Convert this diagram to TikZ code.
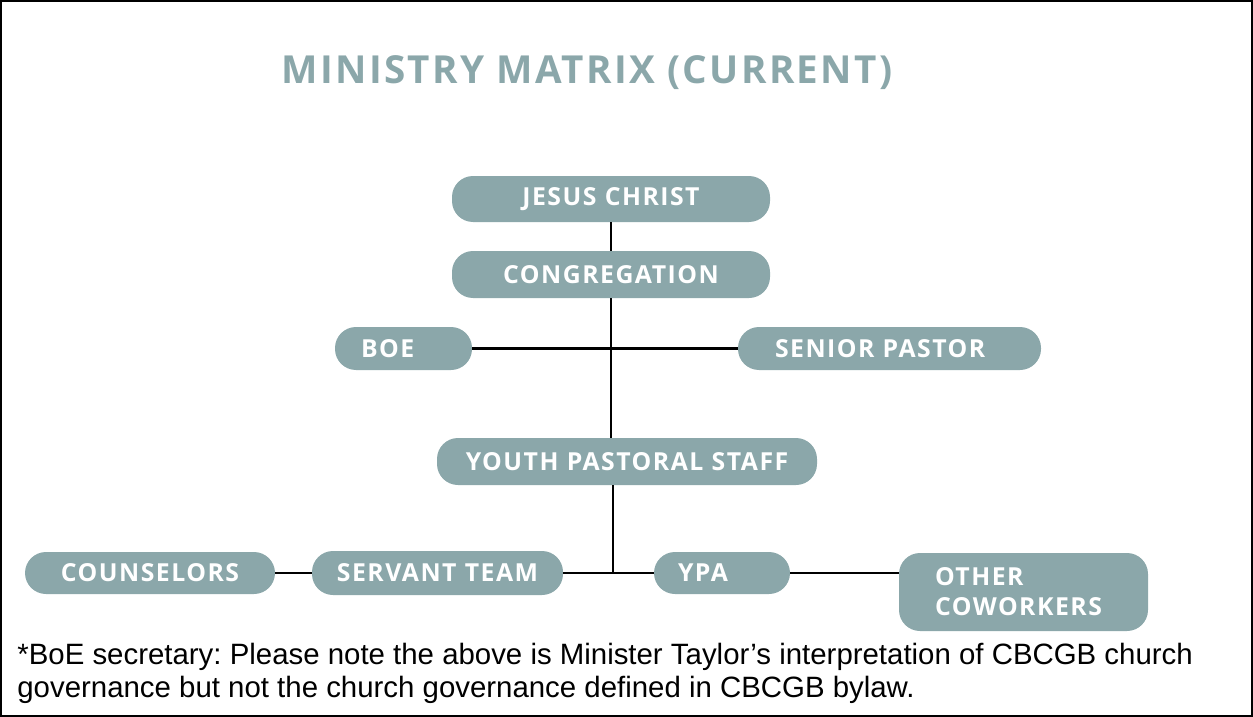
\documentclass[tikz,border=0pt]{standalone}
\usepackage{fontspec}
\setmainfont{Liberation Sans}
\newfontfamily\boxfont{Open Sans}[LetterSpace=6]
\usepackage{tikz}
\usetikzlibrary{positioning}
\definecolor{matrixblue}{RGB}{139,167,170}
\frenchspacing

\begin{document}
\begin{tikzpicture}[x=0.5pt,y=-0.5pt]
\tikzset{box/.style={fill=matrixblue, rounded corners=10.5pt, text=white,
font=\boxfont\bfseries\fontsize{12.4}{15}\selectfont,
minimum height=22pt, inner ysep=0pt}}
\tikzset{link/.style={draw, line width=1.3pt}}
\useasboundingbox (0,0) rectangle (1253,717);
\draw[line width=1pt] (1,1) rectangle (1252,716);

\node[text=matrixblue, font=\boxfont\bfseries\fontsize{19.3}{23}\selectfont] (title) at (587,73) {MINISTRY MATRIX (CURRENT)};

\node[box, inner xsep=0pt, text width=159pt, align=center, minimum height=23pt] (jesus) at (611,199) {JESUS CHRIST};
\node[box, inner xsep=0pt, text width=159pt, align=center, minimum height=23.5pt] (congregation) at (611,274.5) {CONGREGATION};
\node[box, inner xsep=13pt, text width=42.5pt, align=left, minimum height=21.5pt] (boe) at (403.5,348.5) {BOE};
\node[box, inner xsep=18.5pt, text width=114.5pt, align=left, minimum height=21.5pt] (senior) at (889.5,348.5) {SENIOR PASTOR};
\node[box, inner xsep=0pt, text width=190pt, align=center, minimum height=23.5pt] (yps) at (627,461.5) {YOUTH PASTORAL STAFF};
\node[box, inner xsep=0pt, text width=125pt, align=center, minimum height=21pt] (counselors) at (150,573) {COUNSELORS};
\node[box, inner xsep=0pt, text width=125.5pt, align=center, minimum height=22pt] (servant) at (437.5,573) {SERVANT TEAM};
\node[box, inner xsep=12pt, text width=44pt, align=left, minimum height=21pt] (ypa) at (722,573) {YPA};
\node[box, inner xsep=18pt, text width=88.5pt, align=left, minimum height=39pt] (others) at (1023.5,592) {OTHER\\COWORKERS};

% connectors
\coordinate (hub) at (613,573);
\draw[link] (jesus) -- (congregation);
\draw[link] (congregation.south) -- (congregation.south |- yps.north);
\draw[link] (boe.east) -- (senior.west);
\draw[link] (yps.south -| hub) -- (hub);
\draw[link] (counselors.east) -- (servant.west);
\draw[link] (servant.east) -- (ypa.west);
\draw[link] (ypa.east) -- (ypa.east -| others.west);

\node[anchor=north west, inner sep=0pt, align=left, font=\fontsize{14.7}{16.5}\selectfont] (note) at (17,643) {*BoE secretary: Please note the above is Minister Taylor’s interpretation of CBCGB church\\governance but not the church governance defined in CBCGB bylaw.};
\end{tikzpicture}
\end{document}
